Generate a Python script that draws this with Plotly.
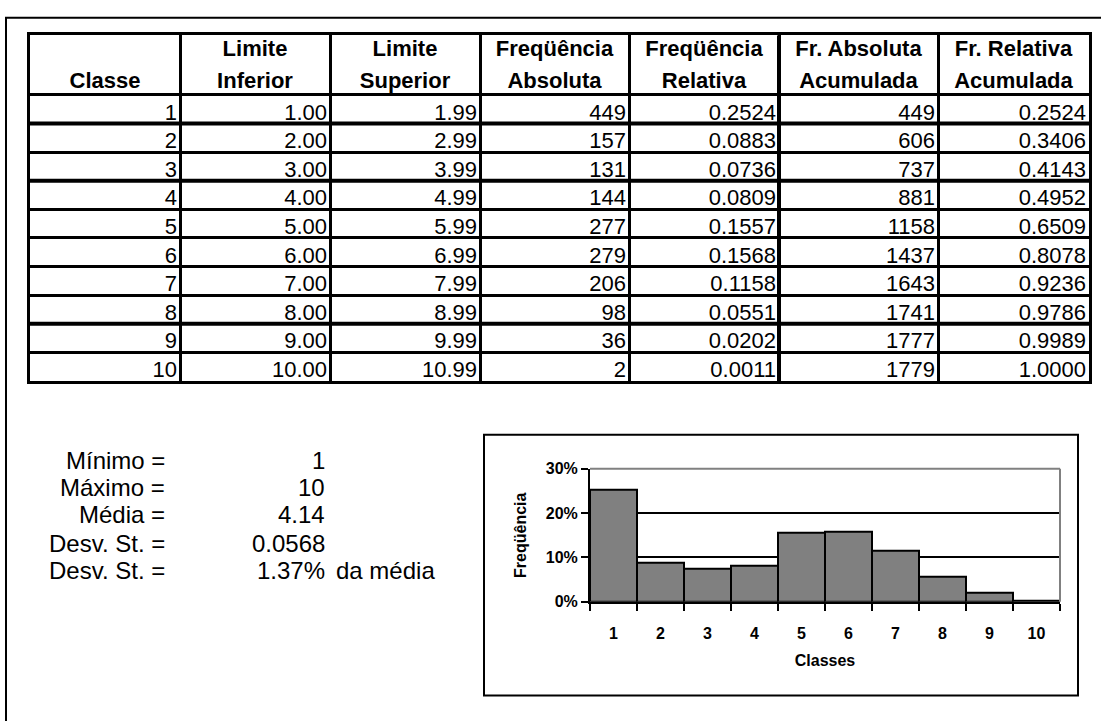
import plotly.graph_objects as go

W, H = 1101, 721

# ---------------- data ----------------
classes = [1, 2, 3, 4, 5, 6, 7, 8, 9, 10]
lim_inf = [1.00, 2.00, 3.00, 4.00, 5.00, 6.00, 7.00, 8.00, 9.00, 10.00]
lim_sup = [1.99, 2.99, 3.99, 4.99, 5.99, 6.99, 7.99, 8.99, 9.99, 10.99]
freq_abs = [449, 157, 131, 144, 277, 279, 206, 98, 36, 2]
freq_rel = [0.2524, 0.0883, 0.0736, 0.0809, 0.1557, 0.1568, 0.1158, 0.0551, 0.0202, 0.0011]
fr_abs_acum = [449, 606, 737, 881, 1158, 1437, 1643, 1741, 1777, 1779]
fr_rel_acum = [0.2524, 0.3406, 0.4143, 0.4952, 0.6509, 0.8078, 0.9236, 0.9786, 0.9989, 1.0000]

header_line1 = ["", "Limite", "Limite", "Freqüência", "Freqüência", "Fr. Absoluta", "Fr. Relativa"]
header_line2 = ["Classe", "Inferior", "Superior", "Absoluta", "Relativa", "Acumulada", "Acumulada"]

stat_labels = ["Mínimo =", "Máximo =", "Média =", "Desv. St. =", "Desv. St. ="]
stat_values = ["1", "10", "4.14", "0.0568", "1.37%"]
stat_suffix = "da média"

x_tick_labels = [str(c) for c in classes]
y_tick_vals = [0, 0.1, 0.2, 0.3]
y_tick_labels = ["0%", "10%", "20%", "30%"]
x_title = "Classes"
y_title = "Freqüência"

# ---------------- layout constants ----------------
FONT = "Arial, 'Liberation Sans', sans-serif"
col_widths = [150, 150, 150, 149, 150, 159, 151]
header_h = 61
row_h = 29.3
table_left, table_top = 30, 28
table_w = sum(col_widths)
table_h = header_h + row_h * len(classes)

edges = [0]
for w in col_widths:
    edges.append(edges[-1] + w)
row_edges = [0, header_h] + [header_h + row_h * (i + 1) for i in range(len(classes))]
thick_rows = [1, 3, 8]          # horizontal borders drawn heavier (after these rows)
thick_cols = [5]                # vertical borders drawn heavier (index into edges)


def px(x):
    return x / W


def py(y):
    return 1 - y / H


fig = go.Figure()

# ---------------- histogram ----------------
fig.add_trace(go.Bar(
    x=x_tick_labels, y=freq_rel,
    marker=dict(color="#808080", line=dict(color="black", width=2)),
    xaxis="x", yaxis="y", hoverinfo="skip", showlegend=False,
))

# ---------------- table text ----------------
columns = [
    [f"{v:d}" for v in classes],
    [f"{v:.2f}" for v in lim_inf],
    [f"{v:.2f}" for v in lim_sup],
    [f"{v:d}" for v in freq_abs],
    [f"{v:.4f}" for v in freq_rel],
    [f"{v:d}" for v in fr_abs_acum],
    [f"{v:.4f}" for v in fr_rel_acum],
]
row_centers = [header_h + (i + 0.5) * row_h + 5 for i in range(len(classes))]
for j, col in enumerate(columns):
    fig.add_trace(go.Scatter(
        x=[edges[j + 1] - 3] * len(col), y=row_centers, text=col,
        mode="text", textposition="middle left",
        textfont=dict(family=FONT, size=22, color="black"),
        xaxis="x2", yaxis="y2", hoverinfo="skip", showlegend=False, cliponaxis=False,
    ))

centers = [(edges[j] + edges[j + 1]) / 2 for j in range(len(col_widths))]
for txt, yy in ((header_line1, 16), (header_line2, 48)):
    fig.add_trace(go.Scatter(
        x=centers, y=[yy] * len(centers), text=txt,
        mode="text", textposition="middle center",
        textfont=dict(family=FONT, size=22, color="black", weight="bold"),
        xaxis="x2", yaxis="y2", hoverinfo="skip", showlegend=False, cliponaxis=False,
    ))

# ---------------- statistics text ----------------
stat_rows = [463, 491, 519, 548, 576]
annotations = []
for lab, val, yy in zip(stat_labels, stat_values, stat_rows):
    annotations.append(dict(x=px(167), y=py(yy), xref="paper", yref="paper", text=lab,
                            xanchor="right", yanchor="middle", showarrow=False,
                            font=dict(family=FONT, size=24, color="black")))
    annotations.append(dict(x=px(327), y=py(yy), xref="paper", yref="paper", text=val,
                            xanchor="right", yanchor="middle", showarrow=False,
                            font=dict(family=FONT, size=24, color="black")))
annotations.append(dict(x=px(334), y=py(stat_rows[-1]), xref="paper", yref="paper", text=stat_suffix,
                        xanchor="left", yanchor="middle", showarrow=False,
                        font=dict(family=FONT, size=24, color="black")))

# ---------------- shapes ----------------
shapes = [
    # outer frame
    dict(type="rect", xref="paper", yref="paper", x0=px(6), x1=1.05, y0=-0.05, y1=py(10),
         line=dict(color="black", width=2), fillcolor="rgba(0,0,0,0)", layer="below"),
    # chart box
    dict(type="rect", xref="paper", yref="paper", x0=px(484), x1=px(1078), y0=py(704), y1=py(437),
         line=dict(color="black", width=2), fillcolor="rgba(0,0,0,0)"),
    # plot-area border (gray top & right)
    dict(type="line", xref="x domain", yref="y domain", x0=0, x1=1, y0=1, y1=1,
         line=dict(color="#808080", width=2)),
    dict(type="line", xref="x domain", yref="y domain", x0=1, x1=1, y0=0, y1=1,
         line=dict(color="#808080", width=2)),
]
for r in thick_rows:
    yb = row_edges[r + 1]
    shapes.append(dict(type="line", xref="x2", yref="y2", x0=0, x1=table_w, y0=yb, y1=yb,
                       line=dict(color="black", width=4)))
for c in thick_cols:
    shapes.append(dict(type="line", xref="x2", yref="y2", x0=edges[c], x1=edges[c], y0=0, y1=table_h,
                       line=dict(color="black", width=4)))

fig.update_layout(
    width=W, height=H,
    margin=dict(l=0, r=0, t=0, b=0),
    paper_bgcolor="white", plot_bgcolor="white",
    font=dict(family=FONT, color="black"),
    bargap=0,
    showlegend=False,
    annotations=annotations,
    shapes=shapes,
    xaxis=dict(
        domain=[px(590), px(1060)], anchor="y", type="category", range=[-0.5, 9.5],
        showline=True, linecolor="black", linewidth=2,
        ticks="outside", tickson="boundaries", ticklen=7, tickwidth=2, tickcolor="black",
        ticklabelstandoff=16,
        tickfont=dict(family=FONT, size=16, weight="bold"),
        showgrid=False, zeroline=False, fixedrange=True,
        title=dict(text=x_title, font=dict(family=FONT, size=16, weight="bold"), standoff=14),
    ),
    yaxis=dict(
        domain=[py(608), py(472)], anchor="x", range=[0, 0.3],
        tickvals=y_tick_vals, ticktext=y_tick_labels,
        showline=True, linecolor="black", linewidth=2,
        ticks="outside", ticklen=7, tickwidth=2, tickcolor="black",
        tickfont=dict(family=FONT, size=16, weight="bold"),
        showgrid=True, gridcolor="black", gridwidth=2, zeroline=False, fixedrange=True,
        title=dict(text=y_title, font=dict(family=FONT, size=16, weight="bold"), standoff=15),
    ),
    xaxis2=dict(
        domain=[px(table_left), px(table_left + table_w)], anchor="y2", range=[0, table_w],
        tickvals=edges, showticklabels=False, ticks="",
        showgrid=True, gridcolor="black", gridwidth=3,
        showline=True, mirror=True, linecolor="black", linewidth=3,
        zeroline=False, fixedrange=True,
    ),
    yaxis2=dict(
        domain=[py(table_top + table_h), py(table_top)], anchor="x2", range=[table_h, 0],
        tickvals=row_edges, showticklabels=False, ticks="",
        showgrid=True, gridcolor="black", gridwidth=3,
        showline=True, mirror=True, linecolor="black", linewidth=3,
        zeroline=False, fixedrange=True,
    ),
)

fig.write_html("out.html", config={"displayModeBar": False},
               post_script="document.body.style.margin='0';document.body.style.overflow='hidden';")
